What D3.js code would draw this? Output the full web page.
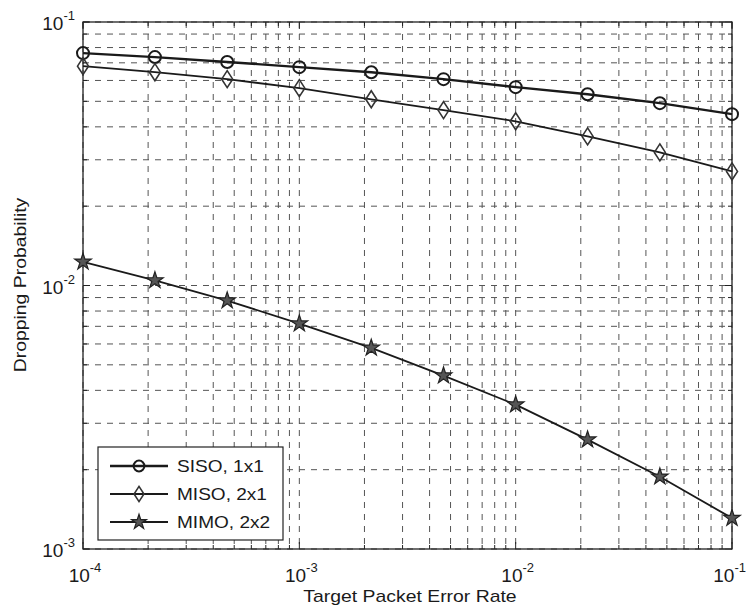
<!DOCTYPE html>
<html>
<head>
<meta charset="utf-8">
<script src="https://cdn.jsdelivr.net/npm/d3@7"></script>
<style>
  body { margin: 0; background: #fff; }
  text { font-family: "Liberation Sans", Arial, sans-serif; fill: #1a1a1a; }
</style>
</head>
<body>
<div id="chart"></div>
<script>
// data
var perTarget = [1e-4, 2.15e-4, 4.64e-4, 1e-3, 2.15e-3, 4.64e-3, 1e-2, 2.15e-2, 4.64e-2, 1e-1];
var sisoDrop = [0.0762, 0.0736, 0.0705, 0.0674, 0.0645, 0.0607, 0.0566, 0.0532, 0.0492, 0.0447];
var misoDrop = [0.068, 0.0645, 0.0607, 0.0561, 0.0509, 0.0463, 0.042, 0.0368, 0.032, 0.0271];
var mimoDrop = [0.0123, 0.01045, 0.00877, 0.00717, 0.0058, 0.00455, 0.00353, 0.0026, 0.00188, 0.00131];
var seriesNames = ["SISO, 1x1", "MISO, 2x1", "MIMO, 2x2"];
var xTickExps = [-4, -3, -2, -1];
var yTickExps = [-3, -2, -1];

var W = 748, H = 607;
var plot = {left: 83, right: 732, top: 22, bottom: 549};

var svg = d3.select("#chart").append("svg")
    .attr("width", W)
    .attr("height", H);

var x = d3.scaleLog().domain([1e-4, 1e-1]).range([plot.left, plot.right]);
var y = d3.scaleLog().domain([1e-3, 1e-1]).range([plot.bottom, plot.top]);

// the scan is a bit wider than Arial, so stretch the long texts
function stretch(sel, k) {
    sel.each(function () {
        var len = this.getComputedTextLength();
        d3.select(this).attr("textLength", len * k).attr("lengthAdjust", "spacingAndGlyphs");
    });
}

// grid (major + minor, dashed)
var grid = svg.append("g").attr("stroke", "#555").attr("stroke-width", 1)
    .attr("stroke-dasharray", "6,6").attr("fill", "none");
grid.selectAll(".vg").data(x.ticks()).enter().append("line")
    .attr("x1", function (d) { return x(d); })
    .attr("x2", function (d) { return x(d); })
    .attr("y1", plot.top).attr("y2", plot.bottom);
grid.selectAll(".hg").data(y.ticks()).enter().append("line")
    .attr("x1", plot.left).attr("x2", plot.right)
    .attr("y1", function (d) { return y(d); })
    .attr("y2", function (d) { return y(d); });

// inward ticks on all four sides
function tickLen(d) {
    var e = Math.log10(d);
    return Math.abs(e - Math.round(e)) < 1e-6 ? 7 : 4;
}
var ticks = svg.append("g").attr("stroke", "#222").attr("stroke-width", 1);
x.ticks().forEach(function (d) {
    var L = tickLen(d);
    ticks.append("line").attr("x1", x(d)).attr("x2", x(d)).attr("y1", plot.bottom).attr("y2", plot.bottom - L);
    ticks.append("line").attr("x1", x(d)).attr("x2", x(d)).attr("y1", plot.top).attr("y2", plot.top + L);
});
y.ticks().forEach(function (d) {
    var L = tickLen(d);
    ticks.append("line").attr("y1", y(d)).attr("y2", y(d)).attr("x1", plot.left).attr("x2", plot.left + L);
    ticks.append("line").attr("y1", y(d)).attr("y2", y(d)).attr("x1", plot.right).attr("x2", plot.right - L);
});

// frame
svg.append("rect")
    .attr("x", plot.left).attr("y", plot.top)
    .attr("width", plot.right - plot.left).attr("height", plot.bottom - plot.top)
    .attr("fill", "none").attr("stroke", "#222").attr("stroke-width", 1.3);

// tick labels 10^n
xTickExps.forEach(function (e, i) {
    var last = i === xTickExps.length - 1;
    var t = svg.append("text")
        .attr("x", last ? W - 2 : x(Math.pow(10, e)) + 2)
        .attr("y", plot.bottom + 33)
        .attr("text-anchor", last ? "end" : "middle")
        .style("font-size", "19px");
    t.append("tspan").text("10");
    t.append("tspan").attr("dy", -10).style("font-size", "13px").text(String(e));
});
yTickExps.forEach(function (e) {
    var t = svg.append("text")
        .attr("x", plot.left - 8)
        .attr("y", y(Math.pow(10, e)) + 8)
        .attr("text-anchor", "end")
        .style("font-size", "19px");
    t.append("tspan").text("10");
    t.append("tspan").attr("dy", -10).style("font-size", "13px").text(String(e));
});

// axis titles
svg.append("text")
    .attr("x", 410).attr("y", 602)
    .attr("text-anchor", "middle")
    .style("font-size", "17px")
    .text("Target Packet Error Rate")
    .call(stretch, 1.14);
svg.append("text")
    .attr("transform", "translate(26,285) rotate(-90)")
    .attr("text-anchor", "middle")
    .style("font-size", "17px")
    .text("Dropping Probability")
    .call(stretch, 1.14);

// markers
function drawMarker(g, kind, cx, cy, s) {
    if (kind === 0) {
        g.append("circle").attr("cx", cx).attr("cy", cy).attr("r", 6 * s)
            .attr("fill", "none").attr("stroke", "#1a1a1a").attr("stroke-width", 2);
    } else if (kind === 1) {
        var w = 5.5 * s, h = 8.5 * s;
        g.append("path")
            .attr("d", "M" + cx + "," + (cy - h) + "L" + (cx + w) + "," + cy + "L" + cx + "," + (cy + h) + "L" + (cx - w) + "," + cy + "Z")
            .attr("fill", "none").attr("stroke", "#333").attr("stroke-width", 1.6);
    } else {
        g.append("path")
            .attr("d", d3.symbol().type(d3.symbolStar).size(85 * s * s)())
            .attr("transform", "translate(" + cx + "," + cy + ")")
            .attr("fill", "#555").attr("stroke", "#222").attr("stroke-width", 1.2);
    }
}

var series = [sisoDrop, misoDrop, mimoDrop];
var widths = [2.4, 1.8, 1.8];
var line = d3.line()
    .x(function (d, i) { return x(perTarget[i]); })
    .y(function (d) { return y(d); });

series.forEach(function (vals, k) {
    var g = svg.append("g");
    g.append("path")
        .datum(vals)
        .attr("d", line)
        .attr("fill", "none")
        .attr("stroke", "#1a1a1a")
        .attr("stroke-width", widths[k]);
    vals.forEach(function (v, i) {
        drawMarker(g, k, x(perTarget[i]), y(v), 1);
    });
});

// legend
var lg = svg.append("g");
lg.append("rect")
    .attr("x", 98).attr("y", 447).attr("width", 185).attr("height", 93)
    .attr("fill", "#fff").attr("stroke", "#222").attr("stroke-width", 1.2);
seriesNames.forEach(function (name, k) {
    var yy = 466 + k * 28;
    lg.append("line").attr("x1", 110).attr("x2", 168).attr("y1", yy).attr("y2", yy)
        .attr("stroke", "#1a1a1a").attr("stroke-width", widths[k]);
    drawMarker(lg, k, 139, yy, 0.9);
    lg.append("text")
        .attr("x", 177).attr("y", yy + 6)
        .style("font-size", "17px")
        .text(name)
        .call(stretch, 1.12);
});
</script>
</body>
</html>
